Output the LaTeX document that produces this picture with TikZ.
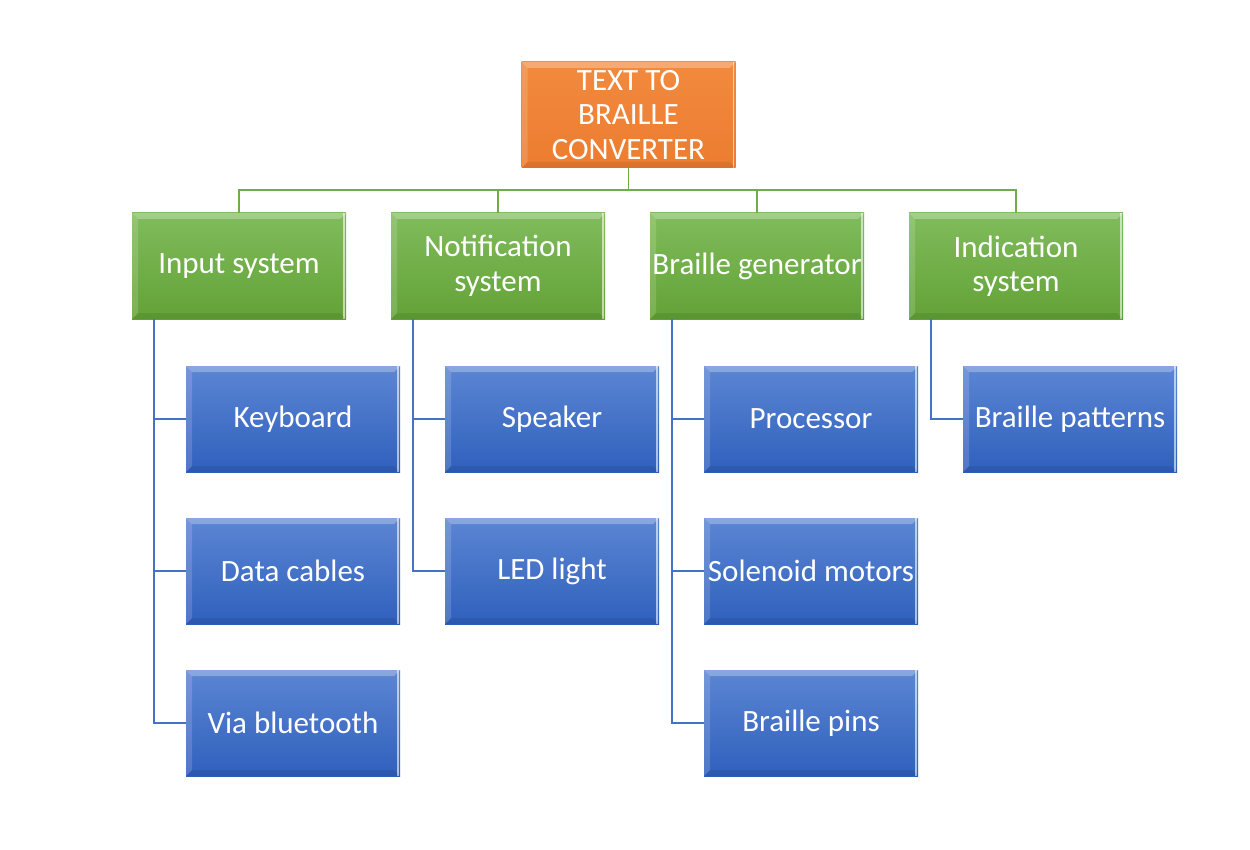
\documentclass[tikz,border=0pt]{standalone}
\usepackage{fontspec}
\setmainfont{Carlito}
\usetikzlibrary{calc}
\definecolor{orgtop}{HTML}{F28A3E}
\definecolor{orgbot}{HTML}{EC7C30}
\definecolor{grntop}{HTML}{80BC5C}
\definecolor{grnbot}{HTML}{63A237}
\definecolor{blutop}{HTML}{5C86D3}
\definecolor{blubot}{HTML}{2F60BD}
\definecolor{grnline}{HTML}{70AD47}
\definecolor{bluline}{HTML}{4472C4}
\newcommand{\boxfont}{\fontsize{31}{34.5}\selectfont}
\tikzset{
  box/.style={minimum width=214pt, minimum height=106pt, inner sep=1pt, outer sep=0pt,
    text=white, font=\boxfont, align=center,
    path picture={
      \fill[white,opacity=.28] (path picture bounding box.north west) -- (path picture bounding box.north east)
        -- ([xshift=-6pt,yshift=-6pt]path picture bounding box.north east) -- ([xshift=6pt,yshift=-6pt]path picture bounding box.north west) -- cycle;
      \fill[white,opacity=.15] (path picture bounding box.north west) -- ([xshift=6pt,yshift=-6pt]path picture bounding box.north west)
        -- ([xshift=6pt,yshift=6pt]path picture bounding box.south west) -- (path picture bounding box.south west) -- cycle;
      \fill[white,opacity=.6] ([xshift=-3pt]path picture bounding box.north east) rectangle ([xshift=-1.5pt]path picture bounding box.south east);
      \fill[black,opacity=.08] (path picture bounding box.south west) -- (path picture bounding box.south east)
        -- ([xshift=-6pt,yshift=6pt]path picture bounding box.south east) -- ([xshift=6pt,yshift=6pt]path picture bounding box.south west) -- cycle;
    }},
  orangebox/.style={box, top color=orgtop, bottom color=orgbot},
  greenbox/.style={box, top color=grntop, bottom color=grnbot},
  bluebox/.style={box, top color=blutop, bottom color=blubot},
  glink/.style={draw=grnline, line width=1.5pt},
  blink/.style={draw=bluline, line width=1.5pt},
}
\begin{document}
\begin{tikzpicture}[x=1pt,y=-1pt]
\useasboundingbox[fill=white] (0,0) rectangle (1250,850);
\node[orangebox] (top) at (628.5,115) {TEXT TO\\BRAILLE\\CONVERTER};
\node[greenbox] (g1) at (239,266) {Input system};
\node[greenbox] (g2) at (498,266) {Notification\\system};
\node[greenbox] (g3) at (757,266) {Braille generator};
\node[greenbox] (g4) at (1016,266) {Indication\\system};
\node[bluebox] (b11) at (293,419) {Keyboard};
\node[bluebox] (b12) at (293,571) {Data cables};
\node[bluebox] (b13) at (293,723) {Via bluetooth};
\node[bluebox] (b21) at (552,419) {Speaker};
\node[bluebox] (b22) at (552,571) {LED light};
\node[bluebox] (b31) at (811,419) {Processor};
\node[bluebox] (b32) at (811,571) {Solenoid motors};
\node[bluebox] (b33) at (811,723) {Braille pins};
\node[bluebox] (b41) at (1070,419) {Braille patterns};
\coordinate (bus) at (628.5,190);
\foreach \g in {g1,g2,g3,g4}{
  \draw[glink] (top.south) -- (bus) -| (\g.north);
}
\foreach \g/\b in {g1/b11,g1/b12,g1/b13,g2/b21,g2/b22,g3/b31,g3/b32,g3/b33,g4/b41}{
  \draw[blink] ($(\g.south west)+(22,0)$) |- (\b.west);
}
\end{tikzpicture}
\end{document}
